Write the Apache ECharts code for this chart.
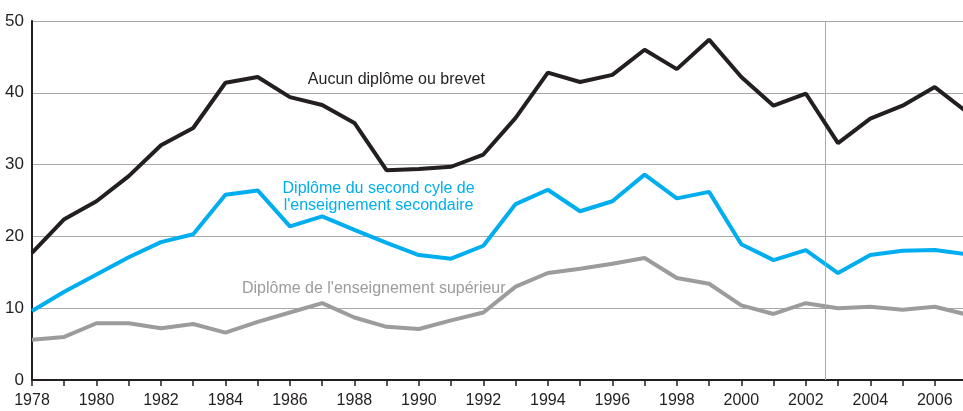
<!DOCTYPE html>
<html>
<head>
<meta charset="utf-8">
<script src="https://cdn.jsdelivr.net/npm/echarts@6/dist/echarts.min.js"></script>
<style>
html,body{margin:0;padding:0;background:#fff;}
#chart{width:963px;height:411px;}
</style>
</head>
<body>
<div id="chart"></div>
<script>
var years = [1978,1979,1980,1981,1982,1983,1984,1985,1986,1987,1988,1989,1990,1991,1992,
	1993,1994,1995,1996,1997,1998,1999,2000,2001,2002,2003,2004,2005,2006,2007];
var aucunDiplome = [17.7,22.4,24.9,28.4,32.7,35.1,41.4,42.2,39.4,38.3,35.8,29.2,29.4,29.7,31.4,
	36.5,42.8,41.5,42.5,46.0,43.3,47.4,42.2,38.2,39.9,33.0,36.4,38.2,40.8,37.3];
var secondCycle = [9.6,12.3,14.7,17.1,19.2,20.3,25.8,26.4,21.4,22.8,20.9,19.1,17.4,16.9,18.7,
	24.5,26.5,23.5,24.9,28.6,25.3,26.2,18.9,16.7,18.1,14.9,17.4,18.0,18.1,17.5];
var superieur = [5.6,6.0,7.9,7.9,7.2,7.8,6.6,8.1,9.4,10.7,8.7,7.4,7.1,8.3,9.4,
	13.0,14.9,15.5,16.2,17.0,14.2,13.4,10.4,9.2,10.7,10.0,10.2,9.8,10.2,9.1];
var yTicks = [0,10,20,30,40,50];
var ruptureYear = 2002.6;

var FONT = '"Liberation Sans", Arial, sans-serif';
var BLACK = '#231f20', BLUE = '#00aeef', GREY = '#9c9c9e';

function pairs(vals){
	var out = [];
	for (var i = 0; i < years.length; i++) out.push([years[i], vals[i]]);
	return out;
}

function label(text, x, y, color){
	return {
		coord: [x, y],
		symbol: 'circle', symbolSize: 0,
		label: {show: true, position: 'inside', formatter: text, color: color,
			fontFamily: FONT, fontSize: 16, lineHeight: 17, align: 'center'}
	};
}

var myChart = echarts.init(document.getElementById('chart'));
myChart.setOption({
	animation: false,
	// the plot runs a little past the right edge of the picture (2007 is cut)
	grid: {left: 32, top: 21, width: 935, height: 359, outerBoundsMode: 'none', containLabel: false},
	xAxis: {
		type: 'value', min: 1978, max: 2007, interval: 1,
		axisLine: {lineStyle: {color: BLACK, width: 2}},
		axisTick: {show: true, length: 6, lineStyle: {color: BLACK, width: 1.5}},
		splitLine: {show: false},
		axisLabel: {
			color: BLACK, fontFamily: FONT, fontSize: 16, margin: 13,
			formatter: function(v){ return v % 2 === 0 && v < 2007 ? String(v) : ''; }
		}
	},
	yAxis: {
		type: 'value', min: yTicks[0], max: yTicks[yTicks.length - 1], interval: 10,
		axisLine: {show: true, lineStyle: {color: BLACK, width: 2}},
		axisTick: {show: false},
		splitLine: {lineStyle: {color: '#a8a8a8', width: 1}},
		axisLabel: {color: BLACK, fontFamily: FONT, fontSize: 17, margin: 8}
	},
	series: [
		{
			name: 'superieur', type: 'line', data: pairs(superieur), symbol: 'none',
			lineStyle: {color: GREY, width: 4}, z: 3,
			markPoint: {data: [label("Diplôme de l'enseignement supérieur", 1988.6, 12.8, GREY)]},
			markLine: {
				silent: true, symbol: 'none', label: {show: false},
				lineStyle: {color: '#a8a8a8', width: 1, type: 'solid'},
				data: [{xAxis: ruptureYear}]
			}
		},
		{
			name: 'second', type: 'line', data: pairs(secondCycle), symbol: 'none',
			lineStyle: {color: BLUE, width: 4}, z: 4,
			markPoint: {data: [label("Diplôme du second cyle de\nl'enseignement secondaire", 1988.75, 25.5, BLUE)]}
		},
		{
			name: 'aucun', type: 'line', data: pairs(aucunDiplome), symbol: 'none',
			lineStyle: {color: BLACK, width: 4}, z: 5,
			markPoint: {data: [label('Aucun diplôme ou brevet', 1989.3, 41.8, BLACK)]}
		}
	]
});
</script>
</body>
</html>
